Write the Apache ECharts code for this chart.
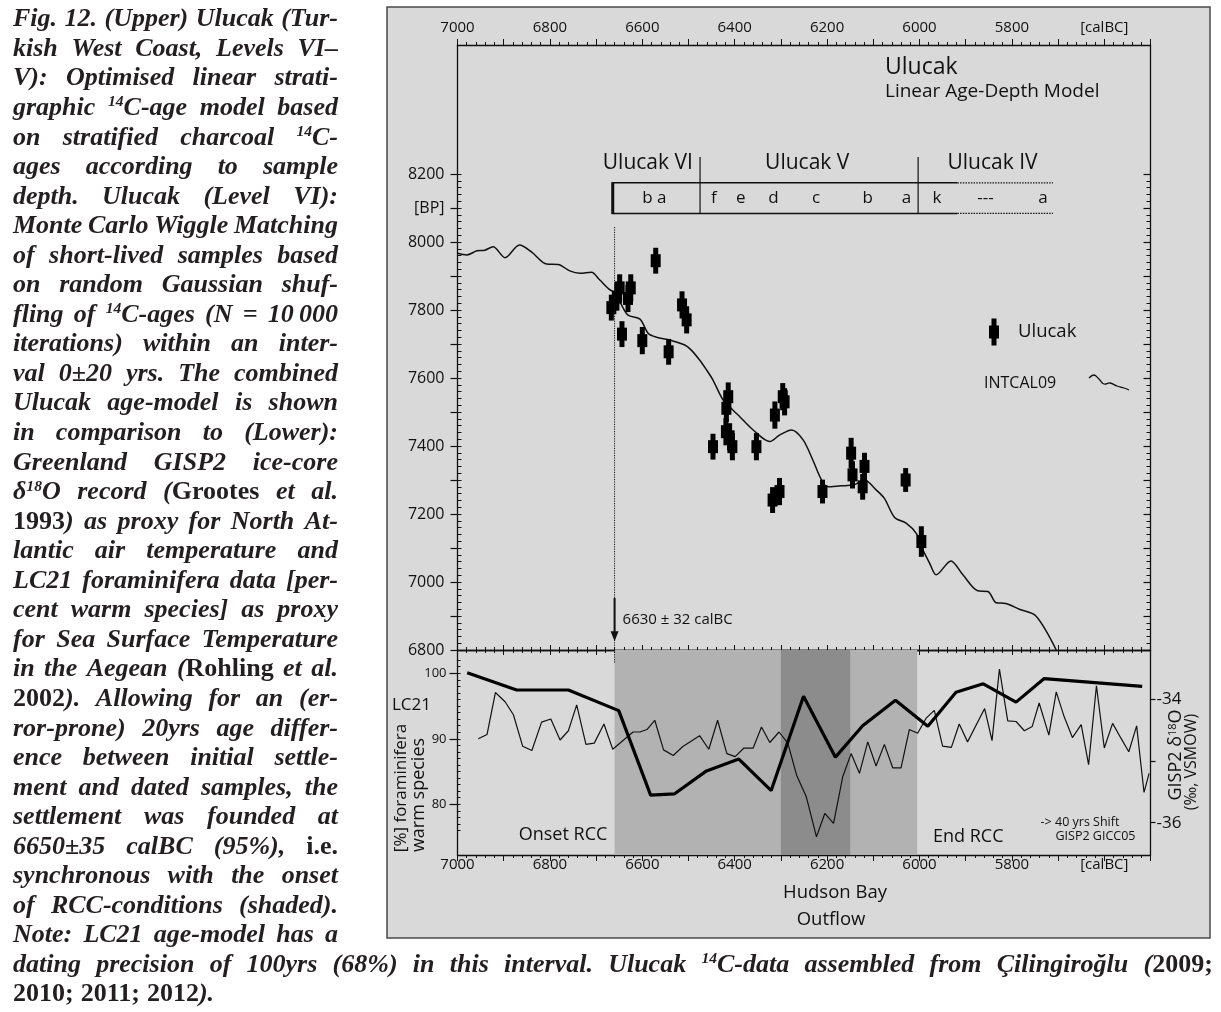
<!DOCTYPE html>
<html><head><meta charset="utf-8">
<script src="https://cdn.jsdelivr.net/npm/echarts@6/dist/echarts.min.js"></script>
<style>
html,body{margin:0;padding:0;background:#fff;}
#chart{position:absolute;left:0;top:0;width:1221px;height:1012px;}
#caption{position:absolute;left:0;top:0;width:1221px;height:1012px;pointer-events:none;
 font-family:"Liberation Serif","DejaVu Serif",serif;font-weight:bold;font-style:italic;font-size:26px;color:#231f20;}
.ln{position:absolute;display:flex;justify-content:space-between;white-space:nowrap;height:30px;line-height:30px;}
.up{font-style:normal;}
.sup{font-size:0.6em;position:relative;top:-0.55em;}
</style></head>
<body>
<div id="chart"></div>
<div id="caption"></div>
<script>
// ================= DATA =================
// Upper panel: INTCAL09 calibration curve (calBC vs BP)
const intcalYear = [7000,6980,6958,6941,6923,6897,6866,6840,6807,6782,6757,6735,6710,6692,6670,6656,6645,6631,6605,6587,6569,6541,6508,6494,6476,6461,6447,6425,6404,6389,6360,6324,6303,6277,6252,6231,6212,6198,6170,6144,6119,6094,6076,6054,6029,6007,5996,5978,5964,5932,5906,5874,5852,5834,5813,5784,5748,5704];
const intcalBP   = [7967,7962,7974,7976,7986,7954,7991,7971,7935,7934,7915,7908,7911,7888,7859,7849,7815,7785,7773,7731,7720,7712,7697,7682,7653,7624,7594,7535,7506,7486,7447,7413,7432,7447,7418,7359,7300,7280,7283,7285,7300,7271,7246,7190,7173,7143,7104,7055,7021,7062,7021,6974,6972,6939,6937,6920,6900,6800];
// Ulucak 14C samples (calBC position, BP age, 1-sigma)
const ulucakYear = [6667,6655,6649,6631,6625,6644,6571,6600,6543,6514,6504,6414,6418,6419,6411,6405,6447,6353,6313,6296,6292,6318,6303,6210,6148,6145,6123,6119,6030,5996];
const ulucakBP   = [7807,7838,7865,7834,7865,7729,7945,7710,7677,7815,7771,7545,7511,7442,7427,7398,7398,7398,7491,7545,7530,7241,7266,7266,7379,7315,7280,7340,7300,7119];
const ulucakErr  = [38,40,40,40,40,38,38,40,38,40,40,42,40,40,40,40,38,40,40,40,40,38,40,35,45,40,38,40,35,45];
// Lower panel: LC21 foraminifera [% warm species]
const lc21Year = [6979,6872,6760,6651,6582,6530,6461,6391,6321,6251,6182,6123,6052,5982,5921,5862,5791,5730,5518];
const lc21Pct  = [100.1,97.45,97.45,94.3,81.4,81.6,85.1,86.9,82.1,96.5,87.2,92.0,95.9,91.9,97.1,98.4,95.6,99.2,98.0];
// Lower panel: GISP2 d18O (permil VSMOW)
const gispYear = [6955,6936,6918,6897,6879,6859,6839,6818,6798,6778,6760,6742,6722,6704,6683,6664,6620,6605,6590,6573,6554,6533,6513,6476,6456,6437,6417,6399,6380,6360,6342,6324,6304,6285,6266,6245,6223,6205,6186,6166,6148,6130,6112,6094,6076,6058,6040,6022,6004,5986,5968,5950,5931,5914,5896,5859,5843,5827,5809,5791,5773,5756,5741,5720,5704,5687,5669,5650,5634,5617,5600,5582,5564,5547,5530,5514,5503];
const gispD18O = [-34.64,-34.57,-33.89,-34.04,-34.25,-34.76,-34.83,-34.37,-34.32,-34.66,-34.51,-34.09,-34.73,-34.71,-34.40,-34.81,-34.53,-34.53,-34.49,-34.34,-34.82,-34.91,-34.77,-34.59,-34.81,-34.34,-34.88,-34.93,-34.79,-34.79,-34.45,-34.70,-34.53,-34.71,-35.23,-35.58,-36.23,-35.85,-36.01,-35.25,-34.88,-35.20,-34.69,-35.08,-34.73,-35.11,-35.11,-34.49,-34.55,-34.31,-34.18,-34.76,-34.78,-34.40,-34.69,-34.15,-34.67,-33.51,-34.35,-34.36,-34.51,-34.44,-34.06,-34.58,-33.88,-34.28,-34.62,-34.41,-35.06,-33.78,-34.79,-34.39,-34.63,-34.85,-34.43,-35.51,-35.20];
// Shaded intervals (calBC)
const shadeStart = [6660, 6300];
const shadeEnd   = [6005, 6150];
const shadeColor = ['#b2b2b2', '#8c8c8c'];
const onsetYear = 6660;
// Stratigraphy annotation
const levelBoundaryYears = [6475, 6003];
const levelNames = ['Ulucak VI', 'Ulucak V', 'Ulucak IV'];
const levelNameYears = [6588, 6243, 5842];
const phaseLetters = ['b a','f','e','d','c','b','a','k','---','a'];
const phaseYears = [6574,6445,6387,6316,6224,6112,6028,5962,5857,5733];
const phaseBox = {start: 6664, solidEnd: 5918, dottedEnd: 5711, topBP: 8174, bottomBP: 8084, textBP: 8130, nameBP: 8232, lineTopBP: 8250};

// ================= LAYOUT =================
const FONT = '"Open Sans","Noto Sans",sans-serif';
const INK = '#111';
const L = 457.5, W = 693;
const UP_TOP = 45, MID = 650, LOW_BOT = 855;
const BP_PX = 0.34;               // px per year BP
const BP_MIN = 6800, BP_MAX = BP_MIN + (MID - UP_TOP) / BP_PX;
const LC_PX = 6.55, LC_100 = 673.3;
const LC_MAX = 100 + (LC_100 - MID) / LC_PX, LC_MIN = LC_MAX - (LOW_BOT - MID) / LC_PX;
const G_PX = 61.7, G_34 = 699.3;
const G_MAX = -34 + (G_34 - MID) / G_PX, G_MIN = G_MAX - (LOW_BOT - MID) / G_PX;

const xBase = {type:'value', min:5500, max:7000, inverse:true, interval:100, splitLine:{show:false}};
const lineSt = {color:INK, width:1.3};
function yearLabel(v){ if (v === 5600) return '[calBC]'; if (v % 200 === 0 && v >= 5800) return String(v); return ''; }

const chart = echarts.init(document.getElementById('chart'), null, {width:1221, height:1012});
const bpTickTop = MID - (8200 - BP_MIN) * BP_PX;

const option = {
  animation:false,
  grid:[
    {left:L, top:UP_TOP, width:W, height:MID-UP_TOP, outerBoundsMode:'none'},
    {left:L, top:MID, width:W, height:LOW_BOT-MID, outerBoundsMode:'none'},
    {left:L, top:bpTickTop, width:W, height:MID-bpTickTop, outerBoundsMode:'none'},
    {left:L, top:LC_100, width:W, height:20*LC_PX, outerBoundsMode:'none'},
    {left:L, top:LC_100-2*LC_PX, width:W, height:26*LC_PX, outerBoundsMode:'none'},
    {left:L, top:G_34, width:W, height:2*G_PX, outerBoundsMode:'none'}
  ],
  xAxis:[
    Object.assign({}, xBase, {gridIndex:0, position:'top',
      axisLine:{show:true,onZero:false,lineStyle:lineSt},
      axisTick:{show:true,inside:false,length:6,lineStyle:{color:INK,width:1}},
      minorTick:{show:true,splitNumber:5,length:3,lineStyle:{color:INK,width:1}},
      axisLabel:{show:true,margin:10,fontSize:15,color:INK,fontFamily:FONT,showMinLabel:true,showMaxLabel:true,formatter:yearLabel}}),
    Object.assign({}, xBase, {gridIndex:0, position:'bottom',
      axisLine:{show:true,onZero:false,lineStyle:lineSt},
      axisTick:{show:true,inside:true,length:5,lineStyle:{color:INK,width:1}},
      minorTick:{show:true,splitNumber:5,length:3,lineStyle:{color:INK,width:1}},
      axisLabel:{show:false}}),
    Object.assign({}, xBase, {gridIndex:1, position:'top',
      axisLine:{show:true,onZero:false,lineStyle:lineSt},
      axisTick:{show:true,inside:true,length:5,lineStyle:{color:INK,width:1}},
      minorTick:{show:true,splitNumber:5,length:3,lineStyle:{color:INK,width:1}},
      axisLabel:{show:false}}),
    Object.assign({}, xBase, {gridIndex:1, position:'bottom',
      axisLine:{show:true,onZero:false,lineStyle:lineSt},
      axisTick:{show:true,inside:false,length:6,lineStyle:{color:INK,width:1}},
      minorTick:{show:true,splitNumber:5,length:3,lineStyle:{color:INK,width:1}},
      axisLabel:{show:true,margin:2,fontSize:15,color:INK,fontFamily:FONT,showMinLabel:true,showMaxLabel:true,formatter:yearLabel}}),
    Object.assign({}, xBase, {gridIndex:2, show:false}),
    Object.assign({}, xBase, {gridIndex:3, show:false}),
    Object.assign({}, xBase, {gridIndex:4, show:false}),
    Object.assign({}, xBase, {gridIndex:5, show:false})
  ],
  yAxis:[
    {gridIndex:0, type:'value', position:'left', min:BP_MIN, max:BP_MAX, axisLine:{show:true,onZero:false,lineStyle:lineSt}, axisTick:{show:false}, axisLabel:{show:false}, splitLine:{show:false}},
    {gridIndex:0, type:'value', position:'right', min:BP_MIN, max:BP_MAX, axisLine:{show:true,onZero:false,lineStyle:lineSt}, axisTick:{show:false}, axisLabel:{show:false}, splitLine:{show:false}},
    {gridIndex:1, type:'value', position:'left', min:LC_MIN, max:LC_MAX, axisLine:{show:true,onZero:false,lineStyle:lineSt}, axisTick:{show:false}, axisLabel:{show:false}, splitLine:{show:false}},
    {gridIndex:1, type:'value', position:'right', min:G_MIN, max:G_MAX, axisLine:{show:true,onZero:false,lineStyle:lineSt}, axisTick:{show:false}, axisLabel:{show:false}, splitLine:{show:false}},
    // BP ticks (6800-8200)
    {gridIndex:2, type:'value', position:'left', min:6800, max:8200, interval:100, axisLine:{show:false},
      axisTick:{show:true,inside:false,length:7,lineStyle:{color:INK,width:1.2}}, splitLine:{show:false},
      axisLabel:{show:true,margin:13,fontSize:16,color:INK,fontFamily:FONT,showMinLabel:true,showMaxLabel:true,
        formatter:v => v === 8100 ? '[BP]' : (v % 200 === 0 ? String(v) : '')}},
    {gridIndex:2, type:'value', position:'left', min:6800, max:8200, interval:20, axisLine:{show:false},
      axisTick:{show:true,inside:true,length:4,lineStyle:{color:INK,width:1}}, axisLabel:{show:false}, splitLine:{show:false}},
    {gridIndex:2, type:'value', position:'right', min:6800, max:8200, interval:100, axisLine:{show:false},
      axisTick:{show:true,inside:true,length:7,lineStyle:{color:INK,width:1.2}},
      minorTick:{show:true,splitNumber:5,length:4,lineStyle:{color:INK,width:1}}, axisLabel:{show:false}, splitLine:{show:false}},
    // LC21 ticks
    {gridIndex:3, type:'value', position:'left', min:80, max:100, interval:10, axisLine:{show:false},
      axisTick:{show:true,inside:false,length:8,lineStyle:{color:INK,width:1.2}}, splitLine:{show:false},
      axisLabel:{show:true,margin:11,fontSize:13,color:INK,fontFamily:FONT,showMinLabel:true,showMaxLabel:true}},
    {gridIndex:4, type:'value', position:'left', min:76, max:102, interval:1, axisLine:{show:false},
      axisTick:{show:true,inside:true,length:3,lineStyle:{color:INK,width:1}}, axisLabel:{show:false}, splitLine:{show:false}},
    // GISP2 ticks
    {gridIndex:5, type:'value', position:'right', min:-36, max:-34, interval:1, axisLine:{show:false},
      axisTick:{show:true,inside:false,length:5,lineStyle:{color:INK,width:1.2}}, splitLine:{show:false},
      axisLabel:{show:true,margin:6,fontSize:17,color:INK,fontFamily:FONT,showMinLabel:true,showMaxLabel:true,
        formatter:v => v === -35 ? '' : String(v)}}
  ],
  series:[
    {type:'custom', name:'shade', xAxisIndex:3, yAxisIndex:2, z:1, silent:true,
      data: shadeStart.map((s,i)=>[s, shadeEnd[i], i]),
      renderItem:(params, api)=>{
        const cs = params.coordSys;
        const a = api.coord([api.value(0), LC_MAX])[0], b = api.coord([api.value(1), LC_MAX])[0];
        return {type:'rect', shape:{x:Math.min(a,b), y:cs.y, width:Math.abs(b-a), height:cs.height},
          style:{fill: shadeColor[api.value(2)]}};
      }},
    {type:'line', name:'INTCAL09', xAxisIndex:0, yAxisIndex:0, data:intcalYear.map((y,i)=>[y,intcalBP[i]]),
      showSymbol:false, symbol:'none', smooth:0.3, lineStyle:{color:INK,width:1.5}, z:3},
    {type:'custom', name:'Ulucak', xAxisIndex:0, yAxisIndex:0, z:4,
      data: ulucakYear.map((y,i)=>[y, ulucakBP[i], ulucakErr[i]]),
      renderItem:(params, api)=>{
        const yr = api.value(0), bp = api.value(1), e = api.value(2);
        const c = api.coord([yr,bp]), t = api.coord([yr,bp+e]), b = api.coord([yr,bp-e]);
        return {type:'group', children:[
          {type:'rect', shape:{x:c[0]-2.5, y:t[1], width:5, height:b[1]-t[1]}, style:{fill:'#000'}},
          {type:'rect', shape:{x:c[0]-5, y:c[1]-6.5, width:10, height:13}, style:{fill:'#000'}}
        ]};
      }},
    {type:'line', name:'GISP2', xAxisIndex:3, yAxisIndex:3, data:gispYear.map((y,i)=>[y,gispD18O[i]]),
      showSymbol:false, symbol:'none', lineStyle:{color:INK,width:1.2}, z:3},
    {type:'line', name:'LC21', xAxisIndex:3, yAxisIndex:2, data:lc21Year.map((y,i)=>[y,lc21Pct[i]]),
      showSymbol:false, symbol:'none', lineStyle:{color:'#000',width:3.2}, z:4}
  ]
};
chart.setOption(option);

// ================= ANNOTATIONS =================
const P = (yr, bp) => chart.convertToPixel({xAxisIndex:0, yAxisIndex:0}, [yr, bp]);
function txt(x, y, text, size, opts){
  opts = opts || {};
  return {type:'text', x:x, y:y, z:20, rotation:opts.rotation || 0,
    style:{text:text, fontSize:size, fontFamily:FONT, fill:INK,
      textAlign:opts.align || 'left', align:opts.align || 'left',
      textVerticalAlign:'middle', verticalAlign:'middle', rich:opts.rich}};
}
function line(x1,y1,x2,y2,w,dash){
  return {type:'line', z:15, shape:{x1:x1,y1:y1,x2:x2,y2:y2}, style:{stroke:INK, lineWidth:w, lineDash:dash || null}};
}
const g = [];
g.push({type:'rect', z:-100, shape:{x:387, y:7, width:823, height:931}, style:{fill:'#d9d9d9', stroke:'#4a4a4a', lineWidth:1.5}});
// stratigraphic levels
levelBoundaryYears.forEach(yr => { const a = P(yr, phaseBox.lineTopBP), b = P(yr, phaseBox.bottomBP); g.push(line(a[0],a[1],b[0],b[1],1.2)); });
levelNames.forEach((n,i) => { const p = P(levelNameYears[i], phaseBox.nameBP); g.push(txt(p[0], p[1], n, 21, {align:'center'})); });
{
  const s1 = P(phaseBox.start, phaseBox.topBP), s2 = P(phaseBox.solidEnd, phaseBox.topBP), s3 = P(phaseBox.dottedEnd, phaseBox.topBP);
  const b1 = P(phaseBox.start, phaseBox.bottomBP), b2 = P(phaseBox.solidEnd, phaseBox.bottomBP), b3 = P(phaseBox.dottedEnd, phaseBox.bottomBP);
  g.push(line(s1[0],s1[1],s2[0],s2[1],1.5)); g.push(line(b1[0],b1[1],b2[0],b2[1],1.5));
  g.push(line(s2[0],s2[1],s3[0],s3[1],1.3,[1.5,1.2])); g.push(line(b2[0],b2[1],b3[0],b3[1],1.3,[1.5,1.2]));
  g.push(line(s1[0],s1[1]-0.7,b1[0],b1[1]+0.7,3));
}
phaseLetters.forEach((l,i) => { const p = P(phaseYears[i], phaseBox.textBP); g.push(txt(p[0], p[1], l, 17, {align:'center'})); });
// onset dotted line and arrow
{
  const a = P(onsetYear, 8044), b = P(onsetYear, BP_MIN);
  g.push(line(a[0], a[1], b[0], b[1] + 13, 1, [1.2,1.2]));
  const t1 = P(onsetYear, 6953), t2 = P(onsetYear, 6826);
  g.push(line(t1[0], t1[1], t2[0], t2[1]-9, 2));
  g.push({type:'polygon', z:16, shape:{points:[[t2[0]-4, t2[1]-10],[t2[0]+4, t2[1]-10],[t2[0], t2[1]]]}, style:{fill:INK}});
  const tp = P(onsetYear, 6890);
  g.push(txt(tp[0] + 8, tp[1], '6630 ± 32 calBC', 15));
}
// titles and legend
g.push(txt(885, 67, 'Ulucak', 23));
g.push(txt(885, 92, 'Linear Age-Depth Model', 19));
g.push({type:'rect', z:20, shape:{x:994-2.5, y:332-13.5, width:5, height:27}, style:{fill:'#000'}});
g.push({type:'rect', z:20, shape:{x:994-5, y:332-6.5, width:10, height:13}, style:{fill:'#000'}});
g.push(txt(1018, 332, 'Ulucak', 18.5));
g.push(txt(984, 383, 'INTCAL09', 16));
g.push({type:'polyline', z:20, shape:{points:[[1089,378],[1094,375],[1099,379],[1104,384],[1110,383],[1117,386],[1124,388],[1129,390]], smooth:0.4}, style:{stroke:INK, lineWidth:1.3, fill:null}});
// lower panel labels
g.push(txt(518.7, 835, 'Onset RCC', 18));
g.push(txt(933, 837, 'End RCC', 18));
g.push(txt(1080, 822.7, '-> 40 yrs Shift', 12.5, {align:'center'}));
g.push(txt(1095.5, 836, 'GISP2 GICC05', 12.5, {align:'center'}));
g.push(txt(835, 893, 'Hudson Bay', 18.5, {align:'center'}));
g.push(txt(831, 920, 'Outflow', 18.5, {align:'center'}));
g.push(txt(411.5, 705, 'LC21', 17, {align:'center'}));
g.push(txt(401, 788, '[%] foraminifera', 17, {align:'center', rotation:Math.PI/2}));
g.push(txt(419, 795, 'warm species', 18, {align:'center', rotation:Math.PI/2}));
g.push(txt(1176, 755, '{a|GISP2 δ}{s|18}{a|O}', 18, {align:'center', rotation:Math.PI/2,
  rich:{a:{fontSize:18, fontFamily:FONT, fill:INK, color:INK}, s:{fontSize:11, fontFamily:FONT, fill:INK, color:INK, verticalAlign:'top', padding:[0,0,7,0]}}}));
g.push(txt(1191, 762, '(‰, VSMOW)', 16, {align:'center', rotation:Math.PI/2}));
chart.setOption({graphic:{elements:g}});

// ================= CAPTION =================
const captionLines = [
 'Fig. 12. (Upper) Ulucak (Tur-',
 'kish West Coast, Levels VI–',
 'V): Optimised linear strati-',
 'graphic ^14^C-age model based',
 'on stratified charcoal ^14^C-',
 'ages according to sample',
 'depth. Ulucak (Level VI):',
 'Monte Carlo Wiggle Matching',
 'of short-lived samples based',
 'on random Gaussian shuf-',
 'fling of ^14^C-ages (N = 10\u2009000',
 'iterations) within an inter-',
 'val 0±20 yrs. The combined',
 'Ulucak age-model is shown',
 'in comparison to (Lower):',
 'Greenland GISP2 ice-core',
 'δ^18^O record ({Grootes} et al.',
 '{1993}) as proxy for North At-',
 'lantic air temperature and',
 'LC21 foraminifera data [per-',
 'cent warm species] as proxy',
 'for Sea Surface Temperature',
 'in the Aegean ({Rohling} et al.',
 '{2002}). Allowing for an (er-',
 'ror-prone) 20yrs age differ-',
 'ence between initial settle-',
 'ment and dated samples, the',
 'settlement was founded at',
 '6650±35 calBC (95%), {i.e.}',
 'synchronous with the onset',
 'of RCC-conditions (shaded).',
 'Note: LC21 age-model has a',
 'dating precision of 100yrs (68%) in this interval. Ulucak ^14^C-data assembled from Çilingiroğlu ({2009;}',
 '{2010;} {2011;} {2012}).'
];
function fmt(w){ return w.replace(/\^(\w+)\^/g,'<span class="sup">$1</span>').replace(/\{([^}]*)\}/g,'<span class="up">$1</span>'); }
const cap = document.getElementById('caption');
captionLines.forEach((ln, i) => {
  const d = document.createElement('div');
  d.className = 'ln';
  d.style.top = (18.5 + i * 29.55 - 15.2) + 'px';
  d.style.left = '13px';
  if (i === captionLines.length - 1) { d.style.justifyContent = 'flex-start'; d.style.gap = '7px'; d.style.width = '400px'; }
  else d.style.width = (i === captionLines.length - 2 ? 1200 : 325) + 'px';
  ln.split(' ').forEach(w => { const s = document.createElement('span'); s.innerHTML = fmt(w); d.appendChild(s); });
  cap.appendChild(d);
});
</script>
</body></html>
